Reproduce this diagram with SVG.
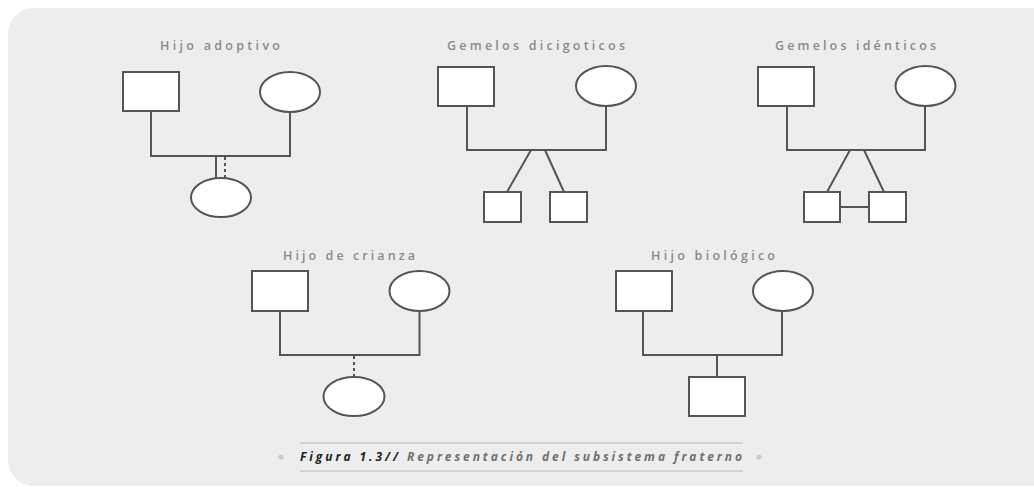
<svg xmlns="http://www.w3.org/2000/svg" width="1034" height="487" viewBox="0 0 1034 487">
<style>
.bg{fill:#ededed}
.sym{fill:#fff;stroke:#555;stroke-width:2}
.ln{fill:none;stroke:#555;stroke-width:2}
.dot{fill:none;stroke:#555;stroke-width:2;stroke-dasharray:3 3}
.title{font-family:"Open Sans","Liberation Sans",Arial,sans-serif;font-size:12.5px;font-weight:600;fill:#8a8a8a}
.cap{font-family:"Open Sans","Liberation Sans",Arial,sans-serif;font-size:12px;font-style:italic;font-weight:bold}
.rule{stroke:#c8c8c8;stroke-width:1.5}
</style>
<rect x="0" y="0" width="1034" height="487" fill="#fff"/>
<rect class="bg" x="8" y="8" width="1060" height="478" rx="26"/>

<g id="adoptivo">
<text class="title" x="160" y="50" textLength="120" lengthAdjust="spacing">Hijo adoptivo</text>
<rect class="sym" x="123" y="72" width="56" height="39"/>
<ellipse class="sym" cx="290" cy="92" rx="30" ry="20"/>
<ellipse class="sym" cx="221" cy="197.5" rx="30" ry="19.5"/>
</g>
<g id="dicigoticos">
<text class="title" x="447" y="50" textLength="178" lengthAdjust="spacing">Gemelos dicigoticos</text>
<rect class="sym" x="438" y="67" width="56" height="39"/>
<ellipse class="sym" cx="606" cy="86" rx="30" ry="20"/>
<rect class="sym" x="484" y="192" width="37" height="30"/>
<rect class="sym" x="550" y="192" width="37" height="30"/>
</g>
<g id="identicos">
<text class="title" x="775" y="50" textLength="161" lengthAdjust="spacing">Gemelos idénticos</text>
<rect class="sym" x="758" y="67" width="56" height="39"/>
<ellipse class="sym" cx="925.5" cy="86" rx="30" ry="20"/>
<rect class="sym" x="804" y="192" width="36" height="30"/>
<rect class="sym" x="869" y="192" width="37" height="30"/>
</g>
<g id="crianza">
<text class="title" x="283" y="260" textLength="132" lengthAdjust="spacing">Hijo de crianza</text>
<rect class="sym" x="252" y="271" width="56" height="40"/>
<ellipse class="sym" cx="419.5" cy="291" rx="30" ry="20"/>
<ellipse class="sym" cx="354" cy="396.5" rx="30.5" ry="19.5"/>
</g>
<g id="biologico">
<text class="title" x="651" y="260" textLength="124" lengthAdjust="spacing">Hijo biológico</text>
<rect class="sym" x="616" y="271" width="56" height="40"/>
<ellipse class="sym" cx="783" cy="291" rx="30" ry="20"/>
<rect class="sym" x="689" y="377" width="56" height="39"/>
</g>

<g id="connectors">
<polyline class="ln" points="151,111 151,156 290,156 290,112"/>
<line class="ln" x1="216" y1="156" x2="216" y2="179"/>
<line class="dot" x1="225" y1="157" x2="225" y2="179"/>

<polyline class="ln" points="467,106 467,150 606,150 606,106"/>
<line class="ln" x1="531" y1="150" x2="507" y2="192"/>
<line class="ln" x1="545" y1="150" x2="564" y2="192"/>

<polyline class="ln" points="787,106 787,150 925,150 925,106"/>
<line class="ln" x1="850" y1="150" x2="827" y2="192"/>
<line class="ln" x1="864" y1="150" x2="884" y2="192"/>
<line class="ln" x1="840" y1="207" x2="869" y2="207"/>

<polyline class="ln" points="280,311 280,355 419.5,355 419.5,311"/>
<line class="dot" x1="354" y1="356" x2="354" y2="377"/>

<polyline class="ln" points="643,311 643,355 782,355 782,311"/>
<line class="ln" x1="717" y1="355" x2="717" y2="377"/>
</g>

<g id="caption">
<line class="rule" x1="300" y1="443" x2="743" y2="443"/>
<line class="rule" x1="300" y1="471" x2="743" y2="471"/>
<circle cx="281" cy="457" r="2.5" fill="#c8c8c8"/>
<circle cx="759" cy="457" r="2.5" fill="#c8c8c8"/>
<text class="cap" x="300" y="461" font-weight="800" fill="#222" textLength="98" lengthAdjust="spacing">Figura 1.3//</text>
<text class="cap" x="407" y="461" fill="#707070" textLength="335" lengthAdjust="spacing">Representación del subsistema fraterno</text>
</g>
</svg>
